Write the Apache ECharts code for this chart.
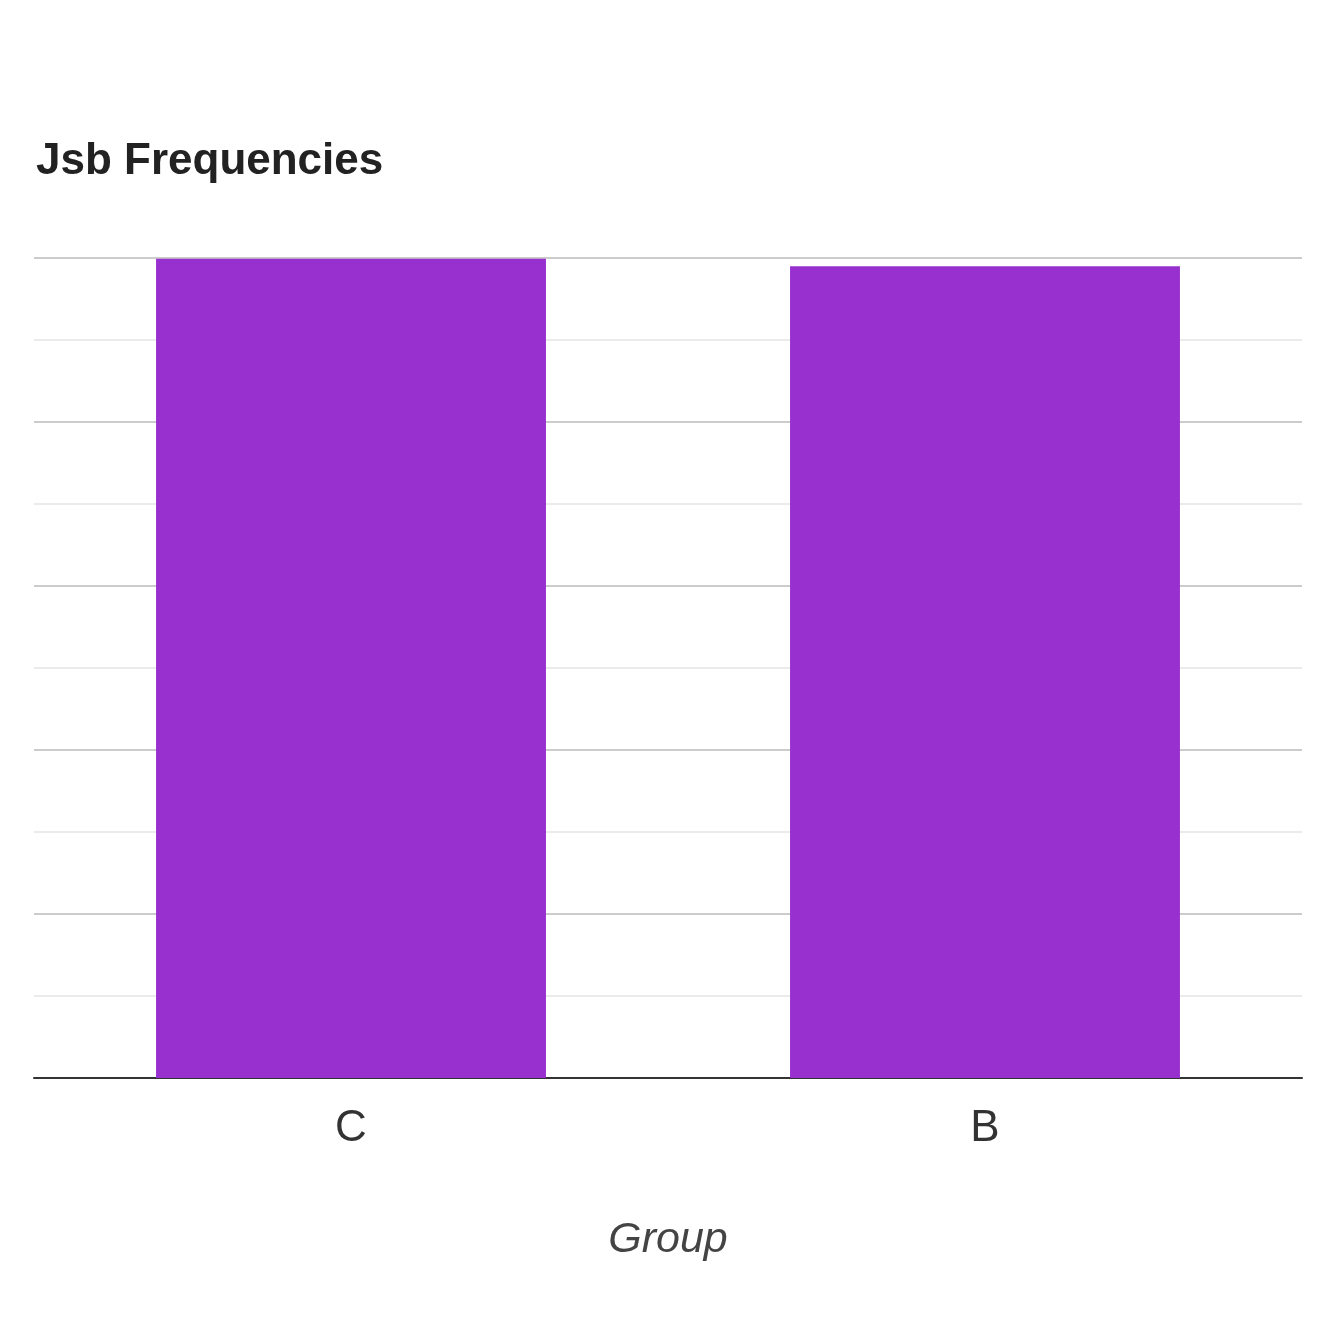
<!DOCTYPE html>
<html>
<head>
<meta charset="utf-8">
<script src="https://cdn.jsdelivr.net/npm/echarts@6/dist/echarts.min.js"></script>
<style>html,body{margin:0;padding:0;background:#fff}#c{width:1334px;height:1334px}</style>
</head>
<body>
<div id="c"></div>
<script>
const categories = ['C', 'B'];
const frequencies = [99.9, 99];
const chart = echarts.init(document.getElementById('c'));
chart.setOption({
  animation: false,
  backgroundColor: '#ffffff',
  title: {
    text: 'Jsb Frequencies',
    left: 31, top: 135,
    textStyle: { fontFamily: 'Liberation Sans, Arial', fontSize: 44, fontWeight: 'bold', color: '#222222' }
  },
  grid: { left: 34, right: 32, top: 258, bottom: 256, containLabel: false },
  xAxis: {
    type: 'category',
    data: categories,
    name: 'Group',
    nameLocation: 'middle',
    nameGap: 141,
    nameTextStyle: { fontFamily: 'Liberation Sans, Arial', fontSize: 43, fontStyle: 'italic', color: '#444444' },
    axisLine: { lineStyle: { color: '#333333', width: 2 } },
    axisTick: { show: false },
    axisLabel: { margin: 29, fontFamily: 'Liberation Sans, Arial', fontSize: 44, color: '#333333' }
  },
  yAxis: {
    type: 'value',
    min: 0, max: 100, interval: 20,
    axisLine: { show: false },
    axisTick: { show: false },
    axisLabel: { show: false },
    splitLine: { lineStyle: { color: '#cccccc', width: 2 } },
    minorTick: { show: false, splitNumber: 2 },
    minorSplitLine: { show: true, lineStyle: { color: '#ebebeb', width: 2 } }
  },
  series: [{
    type: 'bar',
    data: frequencies,
    barWidth: '61.5%',
    itemStyle: { color: '#9830CF' }
  }]
});
</script>
</body>
</html>
